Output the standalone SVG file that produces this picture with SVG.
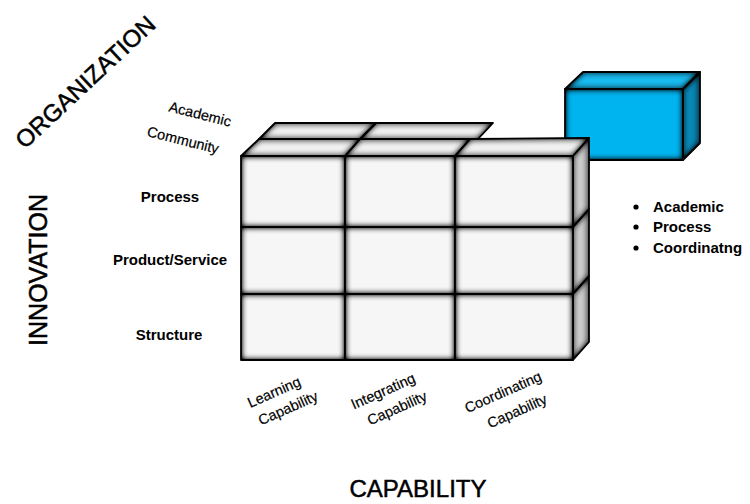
<svg xmlns="http://www.w3.org/2000/svg" width="750" height="504" viewBox="0 0 750 504">
  <defs>
    <!-- soft inner shading along the edges of every face -->
    <filter id="inset" x="-15%" y="-15%" width="130%" height="130%" color-interpolation-filters="sRGB">
      <feFlood flood-color="#000" result="flood"/>
      <feComposite in="flood" in2="SourceAlpha" operator="out" result="outside"/>
      <feGaussianBlur in="outside" stdDeviation="3.2" result="blur"/>
      <feComposite in="blur" in2="SourceAlpha" operator="in" result="shade"/>
      <feComponentTransfer in="shade" result="shadeSoft">
        <feFuncA type="linear" slope="1.5"/>
      </feComponentTransfer>
      <feMerge>
        <feMergeNode in="SourceGraphic"/>
        <feMergeNode in="shadeSoft"/>
      </feMerge>
    </filter>
    <linearGradient id="sideGray" x1="0" y1="0" x2="1" y2="0">
      <stop offset="0" stop-color="#dcdcdc"/>
      <stop offset="1" stop-color="#bcbcbc"/>
    </linearGradient>
    <linearGradient id="topGray" x1="0" y1="1" x2="0" y2="0">
      <stop offset="0" stop-color="#f6f6f6"/>
      <stop offset="1" stop-color="#ebebeb"/>
    </linearGradient>
    <linearGradient id="sideBlue" x1="0" y1="0" x2="1" y2="0">
      <stop offset="0" stop-color="#0a96c8"/>
      <stop offset="1" stop-color="#0878a4"/>
    </linearGradient>
  </defs>
  <style>
    .front { fill: #f6f6f6; }
    .side { fill: url(#sideGray); }
    .top { fill: url(#topGray); }
    .edge { fill: none; stroke: #000; stroke-width: 1.8; stroke-linejoin: round; }
    .bfront { fill: #00b4f0; }
    .btop { fill: #18baf0; }
    .bside { fill: url(#sideBlue); }
    .axis { font-family: "Liberation Sans", Arial, sans-serif; fill: #000; stroke: #000; stroke-width: 0.5; }
    .lbl { font-family: "Liberation Sans", Arial, sans-serif; font-size: 15px; font-weight: bold; fill: #000; }
    .rot { font-family: "Liberation Sans", Arial, sans-serif; font-size: 14.5px; fill: #000; stroke: #000; stroke-width: 0.2; }
  </style>

  <!-- blue block (top right) -->
  <g id="blue-block">
    <polygon class="btop" filter="url(#inset)" points="565,89 583,72 700,72 683,89"/>
    <polygon class="bside" filter="url(#inset)" points="683,89 700,72 700,143 683,160"/>
    <rect class="bfront" filter="url(#inset)" x="565" y="89" width="118" height="71"/>
    <polygon class="edge" points="565,89 583,72 700,72 683,89"/>
    <polygon class="edge" points="683,89 700,72 700,143 683,160"/>
    <rect class="edge" x="565" y="89" width="118" height="71"/>
  </g>

  <!-- back layer tops -->
  <g id="back-tops">
    <polygon class="top" filter="url(#inset)" points="259,139 275,123 376,123 360,139"/>
    <polygon class="top" filter="url(#inset)" points="360,139 376,123 493,123 478,139"/>
    <polygon class="edge" points="259,139 275,123 376,123 360,139"/>
    <polygon class="edge" points="360,139 376,123 493,123 478,139"/>
  </g>

  <!-- front layer tops -->
  <g id="front-tops">
    <polygon class="top" filter="url(#inset)" points="241,156 259,139 360,139 345,156"/>
    <polygon class="top" filter="url(#inset)" points="345,156 360,139 470,139 455,156"/>
    <polygon class="top" filter="url(#inset)" points="455,156 470,139 589,138 573,156"/>
    <polygon class="edge" points="241,156 259,139 360,139 345,156"/>
    <polygon class="edge" points="345,156 360,139 470,139 455,156"/>
    <polygon class="edge" points="455,156 470,139 589,138 573,156"/>
  </g>

  <!-- right side faces -->
  <g id="side-faces">
    <polygon class="side" filter="url(#inset)" points="573,156 589,138 589,209 573,227"/>
    <polygon class="side" filter="url(#inset)" points="573,227 589,209 589,276 573,294"/>
    <polygon class="side" filter="url(#inset)" points="573,294 589,276 589,342 573,360"/>
    <polygon class="edge" points="573,156 589,138 589,209 573,227"/>
    <polygon class="edge" points="573,227 589,209 589,276 573,294"/>
    <polygon class="edge" points="573,294 589,276 589,342 573,360"/>
  </g>

  <!-- front grid: rows Process / Product-Service / Structure, columns Learning / Integrating / Coordinating -->
  <g id="cell-process-learning"><rect class="front" filter="url(#inset)" x="241" y="156" width="104" height="71"/><rect class="edge" x="241" y="156" width="104" height="71"/></g>
  <g id="cell-process-integrating"><rect class="front" filter="url(#inset)" x="345" y="156" width="110" height="71"/><rect class="edge" x="345" y="156" width="110" height="71"/></g>
  <g id="cell-process-coordinating"><rect class="front" filter="url(#inset)" x="455" y="156" width="118" height="71"/><rect class="edge" x="455" y="156" width="118" height="71"/></g>
  <g id="cell-product-learning"><rect class="front" filter="url(#inset)" x="241" y="227" width="104" height="67"/><rect class="edge" x="241" y="227" width="104" height="67"/></g>
  <g id="cell-product-integrating"><rect class="front" filter="url(#inset)" x="345" y="227" width="110" height="67"/><rect class="edge" x="345" y="227" width="110" height="67"/></g>
  <g id="cell-product-coordinating"><rect class="front" filter="url(#inset)" x="455" y="227" width="118" height="67"/><rect class="edge" x="455" y="227" width="118" height="67"/></g>
  <g id="cell-structure-learning"><rect class="front" filter="url(#inset)" x="241" y="294" width="104" height="66"/><rect class="edge" x="241" y="294" width="104" height="66"/></g>
  <g id="cell-structure-integrating"><rect class="front" filter="url(#inset)" x="345" y="294" width="110" height="66"/><rect class="edge" x="345" y="294" width="110" height="66"/></g>
  <g id="cell-structure-coordinating"><rect class="front" filter="url(#inset)" x="455" y="294" width="118" height="66"/><rect class="edge" x="455" y="294" width="118" height="66"/></g>

  <!-- connectors (none drawn) -->
  <g id="connectors"/>

  <!-- axis titles -->
  <g id="axis-organization">
    <text class="axis" font-size="24" text-anchor="middle" transform="translate(91,88) rotate(-43)">ORGANIZATION</text>
  </g>
  <g id="axis-innovation">
    <text class="axis" font-size="25" text-anchor="middle" transform="translate(47,270) rotate(-90)">INNOVATION</text>
  </g>
  <g id="axis-capability">
    <text class="axis" font-size="24" x="418" y="497" text-anchor="middle">CAPABILITY</text>
  </g>

  <!-- organization labels -->
  <g id="label-academic-community">
    <text class="rot" text-anchor="middle" transform="translate(200,114) rotate(14)" dy="0.35em">Academic</text>
    <text class="rot" text-anchor="middle" transform="translate(183,140) rotate(14)" dy="0.35em">Community</text>
  </g>

  <!-- innovation labels -->
  <g id="label-process"><text class="lbl" x="170" y="202" text-anchor="middle">Process</text></g>
  <g id="label-product"><text class="lbl" x="170" y="265" text-anchor="middle">Product/Service</text></g>
  <g id="label-structure"><text class="lbl" x="169" y="340" text-anchor="middle">Structure</text></g>

  <!-- capability labels -->
  <g id="label-learning">
    <text class="rot" text-anchor="middle" transform="translate(274,392) rotate(-24)" dy="0.35em">Learning</text>
    <text class="rot" text-anchor="middle" transform="translate(288,408) rotate(-24)" dy="0.35em">Capability</text>
  </g>
  <g id="label-integrating">
    <text class="rot" text-anchor="middle" transform="translate(383,391) rotate(-24)" dy="0.35em">Integrating</text>
    <text class="rot" text-anchor="middle" transform="translate(397,408) rotate(-24)" dy="0.35em">Capability</text>
  </g>
  <g id="label-coordinating">
    <text class="rot" text-anchor="middle" transform="translate(503,392) rotate(-24)" dy="0.35em">Coordinating</text>
    <text class="rot" text-anchor="middle" transform="translate(517,411) rotate(-24)" dy="0.35em">Capability</text>
  </g>

  <!-- highlighted cell legend -->
  <g id="legend">
    <circle cx="636" cy="207" r="2.6" fill="#000"/>
    <circle cx="636" cy="227" r="2.6" fill="#000"/>
    <circle cx="636" cy="248" r="2.6" fill="#000"/>
    <text class="lbl" x="653" y="212">Academic</text>
    <text class="lbl" x="653" y="232">Process</text>
    <text class="lbl" x="653" y="253">Coordinatng</text>
  </g>
</svg>
